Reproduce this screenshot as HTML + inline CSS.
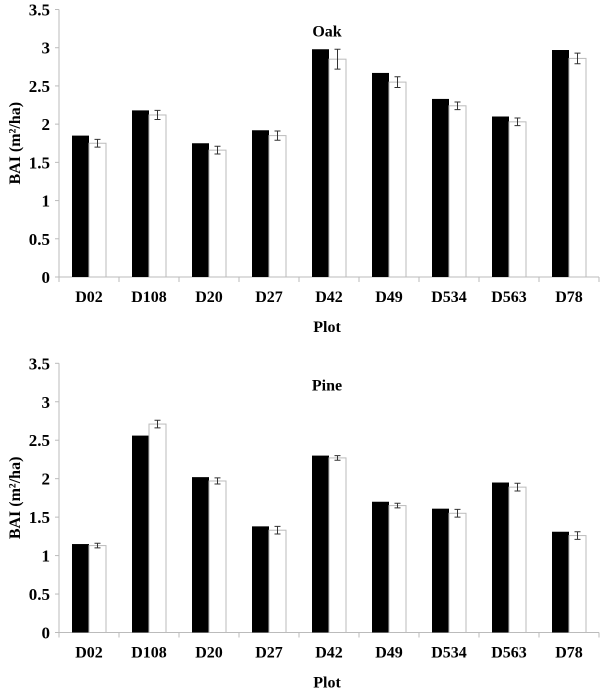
<!DOCTYPE html>
<html><head><meta charset="utf-8"><style>
html,body{margin:0;padding:0;background:#fff}
svg text{font-family:"Liberation Serif",serif;font-weight:bold;fill:#000}
</style></head><body>
<svg id="c" width="600" height="694"></svg>
<script>
const categories=["D02","D108","D20","D27","D42","D49","D534","D563","D78"];
const oakBlack=[1.85,2.18,1.75,1.92,2.98,2.67,2.33,2.10,2.97];
const oakWhite=[1.75,2.12,1.66,1.85,2.85,2.55,2.24,2.03,2.86];
const oakErr=[0.05,0.06,0.05,0.06,0.13,0.07,0.05,0.05,0.07];
const pineBlack=[1.15,2.56,2.02,1.38,2.30,1.70,1.61,1.95,1.31];
const pineWhite=[1.13,2.71,1.97,1.33,2.27,1.65,1.55,1.89,1.26];
const pineErr=[0.03,0.05,0.04,0.05,0.03,0.03,0.05,0.05,0.05];
const yTicks=["0","0.5","1","1.5","2","2.5","3","3.5"];
const NS="http://www.w3.org/2000/svg";
const svg=document.getElementById('c');
function mk(t,a,p){const e=document.createElementNS(NS,t);for(const k in a)e.setAttribute(k,a[k]);(p||svg).appendChild(e);return e;}
function chart(name,title,y0,yTop,black,white,err){
  const g=mk('g',{});
  
  
  const x0=59,cw=60;
  const ys=v=>y0-(v/3.5)*(y0-yTop);
  const xs=i=>x0+i*cw;
  mk('line',{x1:x0,y1:yTop,x2:x0,y2:y0,stroke:'#bbb'},g);
  mk('line',{x1:x0,y1:y0,x2:x0+9*cw,y2:y0,stroke:'#bbb'},g);
  yTicks.forEach(t=>{const v=parseFloat(t),y=ys(v);
    mk('line',{x1:x0-4,y1:y,x2:x0,y2:y,stroke:'#bbb'},g);
    const tx=mk('text',{x:x0-9,y:y+6,'text-anchor':'end','font-size':17},g);tx.textContent=t;
    });
  for(let i=0;i<=9;i++)mk('line',{x1:xs(i),y1:y0,x2:xs(i),y2:y0+5,stroke:'#bbb'},g);
  categories.forEach((c,i)=>{
    const bx=xs(i)+13,bw=17;
    const b=mk('rect',{x:bx,y:ys(black[i]),width:bw,height:y0-ys(black[i]),fill:'#000'},g);
    
    const w=mk('rect',{x:bx+bw,y:ys(white[i]),width:bw,height:y0-ys(white[i]),fill:'#fff',stroke:'#bbb'},g);
    
    const cx=bx+bw+bw/2,t=ys(white[i]+err[i]),bo=ys(white[i]-err[i]);
    mk('path',{d:`M${cx},${t}V${bo}M${cx-3},${t}H${cx+3}M${cx-3},${bo}H${cx+3}`,stroke:'#333','stroke-width':1,fill:'none'},g);
    const l=mk('text',{x:xs(i)+cw/2,y:y0+25,'text-anchor':'middle','font-size':16},g);l.textContent=c;
    
  });
  const tt=mk('text',{x:327,y:yTop+27,'text-anchor':'middle','font-size':16},g);tt.textContent=title;
  
  const xt=mk('text',{x:327,y:y0+55,'text-anchor':'middle','font-size':16},g);xt.textContent='Plot';
  
  const yc=(y0+yTop)/2;
  const yt=mk('text',{x:20,y:yc,'text-anchor':'middle','font-size':16,transform:`rotate(-90 20 ${yc})`},g);yt.textContent='BAI (m²/ha)';
  
}
chart('oak','Oak',277,9.5,oakBlack,oakWhite,oakErr);
chart('pine','Pine',632.5,363.3,pineBlack,pineWhite,pineErr);
</script>
</body></html>
